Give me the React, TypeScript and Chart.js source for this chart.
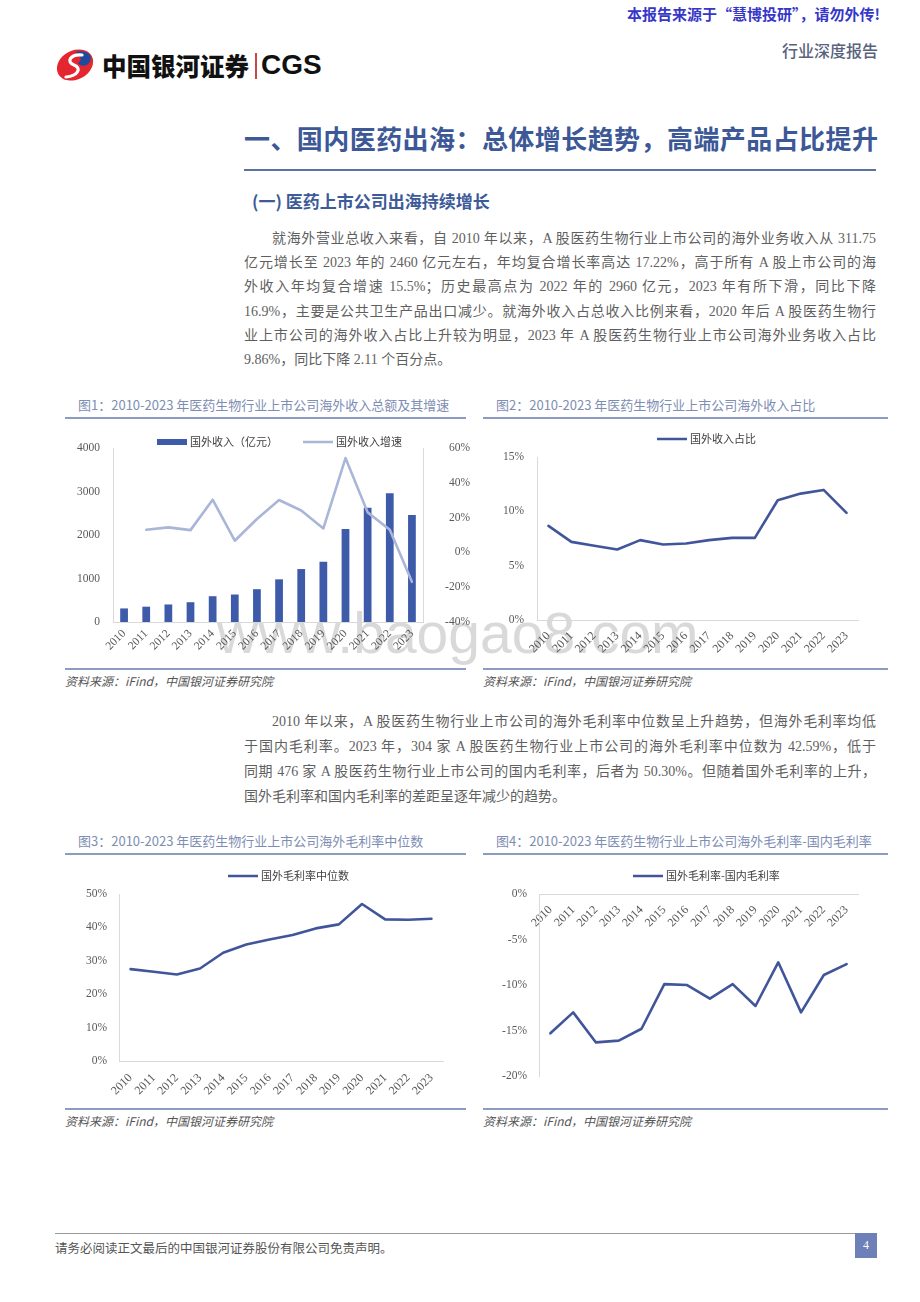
import React, { useEffect, useRef } from 'react';
import { Chart, registerables } from 'chart.js';

Chart.register(...registerables);

// ---------- data ----------
const years = ['2010', '2011', '2012', '2013', '2014', '2015', '2016', '2017', '2018', '2019', '2020', '2021', '2022', '2023'];
// 图1 国外收入（亿元）
const overseasRevenue = [312, 352, 403, 455, 593, 632, 754, 981, 1217, 1385, 2136, 2627, 2960, 2460];
// 图1 国外收入增速 (%)
const revenueGrowth: (number | null)[] = [null, 13.0, 14.4, 12.8, 30.3, 6.7, 19.2, 30.1, 24.1, 13.8, 54.2, 23.0, 13.0, -16.9];
// 图2 国外收入占比 (%)
const overseasShare = [8.66, 7.19, 6.83, 6.49, 7.35, 6.95, 7.04, 7.35, 7.56, 7.56, 11.02, 11.63, 11.97, 9.86];
// 图3 国外毛利率中位数 (%)
const overseasMargin = [27.5, 26.7, 25.9, 27.7, 32.4, 34.9, 36.4, 37.7, 39.7, 40.9, 47.0, 42.4, 42.3, 42.59];
// 图4 国外毛利率-国内毛利率 (%)
const marginGap = [-15.3, -13.0, -16.3, -16.1, -14.8, -9.9, -10.0, -11.5, -9.9, -12.3, -7.5, -13.0, -8.9, -7.7];

const leftTicks1 = [0, 4000, 1000];
const rightTicks1 = [-40, 60, 20];
const ticks2 = [0, 15, 5];
const ticks3 = [0, 50, 10];
const ticks4 = [-20, 0, 5];

// ---------- text ----------
const para1 = [
  '就海外营业总收入来看，自 2010 年以来，A 股医药生物行业上市公司的海外业务收入从 311.75',
  '亿元增长至 2023 年的 2460 亿元左右，年均复合增长率高达 17.22%，高于所有 A 股上市公司的海',
  '外收入年均复合增速 15.5%；历史最高点为 2022 年的 2960 亿元，2023 年有所下滑，同比下降',
  '16.9%，主要是公共卫生产品出口减少。就海外收入占总收入比例来看，2020 年后 A 股医药生物行',
  '业上市公司的海外收入占比上升较为明显，2023 年 A 股医药生物行业上市公司海外业务收入占比',
  '9.86%，同比下降 2.11 个百分点。',
];
const para2 = [
  '2010 年以来，A 股医药生物行业上市公司的海外毛利率中位数呈上升趋势，但海外毛利率均低',
  '于国内毛利率。2023 年，304 家 A 股医药生物行业上市公司的海外毛利率中位数为 42.59%，低于',
  '同期 476 家 A 股医药生物行业上市公司的国内毛利率，后者为 50.30%。但随着国外毛利率的上升，',
  '国外毛利率和国内毛利率的差距呈逐年减少的趋势。',
];

// ---------- styles ----------
const CJK = '"Noto Sans CJK SC", sans-serif';
const BODY_FONT = '"Liberation Serif", "Noto Sans CJK SC", serif';
const SERIF = '"Liberation Serif", "Times New Roman", serif';
const TICK_FONT = { family: SERIF, size: 11.5 };
const TICK_COLOR = '#595959';
const AXIS_LINE = '#d9d9d9';
const LINE_BLUE = '#41559a';
const BAR_BLUE = '#3d5ba9';
const GROWTH_BLUE = '#a9b6d7';

const pageLegend = {
  id: 'pageLegend',
  afterDraw(chart: any, _args: any, opts: any) {
    const ctx = chart.ctx;
    ctx.save();
    ctx.font = `11px ${CJK}`;
    ctx.textBaseline = 'middle';
    ctx.textAlign = 'left';
    let x = opts.x;
    const y = opts.y;
    chart.data.datasets.forEach((ds: any) => {
      const type = ds.type || chart.config.type;
      if (type === 'bar') {
        ctx.fillStyle = ds.backgroundColor;
        ctx.fillRect(x, y - 3, 30, 6);
      } else {
        ctx.strokeStyle = ds.borderColor;
        ctx.lineWidth = 2.5;
        ctx.beginPath();
        ctx.moveTo(x, y);
        ctx.lineTo(x + 30, y);
        ctx.stroke();
      }
      x += 33;
      ctx.fillStyle = '#404040';
      ctx.fillText(ds.label, x, y);
      x += ctx.measureText(ds.label).width + 25;
    });
    ctx.restore();
  },
};

const pct = (v: any) => `${v}%`;
const plain = (v: any) => `${v}`;

const yScale = (t: number[], width: number, pad: number, fmt: (v: any) => string, extra: any = {}) => ({
  min: t[0],
  max: t[1],
  ...extra,
  ticks: { stepSize: t[2], font: TICK_FONT, color: TICK_COLOR, padding: pad, callback: fmt, ...(extra.ticks || {}) },
  grid: { display: false, drawTicks: false },
  border: { display: true, color: AXIS_LINE, width: 1 },
  afterFit: (s: any) => {
    s.width = width;
  },
});

const xScale = (height: number | null, pad: number, size: number, extra: any = {}) => ({
  type: 'category',
  offset: true,
  ...extra,
  ticks: { font: { family: SERIF, size }, color: TICK_COLOR, minRotation: 45, maxRotation: 45, autoSkip: false, padding: pad },
  grid: { display: false, drawTicks: false },
  border: { display: true, color: AXIS_LINE, width: 1 },
  afterFit: (s: any) => {
    if (height !== null) s.height = height;
  },
});

const lineDs = (label: string, data: any[], color: string, extra: any = {}) => ({
  type: 'line',
  label,
  data,
  borderColor: color,
  backgroundColor: color,
  borderWidth: 2.6,
  pointRadius: 0,
  pointHoverRadius: 0,
  tension: 0,
  borderJoinStyle: 'round',
  borderCapStyle: 'round',
  fill: false,
  ...extra,
});

const baseOptions = (padding: any, legend: { x: number; y: number }) => ({
  animation: false,
  responsive: false,
  events: [],
  layout: { padding },
  plugins: { legend: { display: false }, tooltip: { enabled: false }, pageLegend: legend },
});

const chart1 = (): any => ({
  type: 'bar',
  data: {
    labels: years,
    datasets: [
      {
        type: 'bar',
        label: '国外收入（亿元）',
        data: overseasRevenue,
        backgroundColor: BAR_BLUE,
        barPercentage: 0.35,
        categoryPercentage: 1,
        yAxisID: 'y',
        order: 2,
      },
      lineDs('国外收入增速', revenueGrowth, GROWTH_BLUE, { yAxisID: 'y1', order: 1 }),
    ],
  },
  options: {
    ...baseOptions({ top: 23, left: 0, right: 0, bottom: 0 }, { x: 92, y: 17 }),
    scales: {
      x: xScale(43, 5, 11.5),
      y: yScale(leftTicks1, 48, 13, plain, { position: 'left' }),
      y1: yScale(rightTicks1, 47, 11, pct, { position: 'right', ticks: { crossAlign: 'far' } }),
    },
  },
  plugins: [pageLegend],
});

const chart2 = (): any => ({
  type: 'line',
  data: { labels: years, datasets: [lineDs('国外收入占比', overseasShare, LINE_BLUE)] },
  options: {
    ...baseOptions({ top: 32, left: 0, right: 30, bottom: 0 }, { x: 174, y: 14 }),
    scales: { x: xScale(45, 9, 12), y: yScale(ticks2, 54, 13, pct) },
  },
  plugins: [pageLegend],
});

const chart3 = (): any => ({
  type: 'line',
  data: { labels: years, datasets: [lineDs('国外毛利率中位数', overseasMargin, LINE_BLUE)] },
  options: {
    ...baseOptions({ top: 34, left: 0, right: 27, bottom: 0 }, { x: 163, y: 16 }),
    scales: { x: xScale(44, 10, 12), y: yScale(ticks3, 54, 12, pct) },
  },
  plugins: [pageLegend],
});

const chart4 = (): any => ({
  type: 'line',
  data: { labels: years, datasets: [lineDs('国外毛利率-国内毛利率', marginGap, LINE_BLUE)] },
  options: {
    ...baseOptions({ top: 34, left: 0, right: 30, bottom: 8 }, { x: 150, y: 16 }),
    scales: { x: xScale(null, 9, 12, { position: { y: 0 } }), y: yScale(ticks4, 56, 12, pct) },
  },
  plugins: [pageLegend],
});

function ChartCanvas({ left, top, width, height, build }: { left: number; top: number; width: number; height: number; build: () => any }) {
  const ref = useRef<HTMLCanvasElement>(null);
  useEffect(() => {
    const chart = new Chart(ref.current as HTMLCanvasElement, build());
    return () => chart.destroy();
  }, []);
  return (
    <canvas
      ref={ref}
      width={width}
      height={height}
      style={{ position: 'absolute', left, top, width, height, zIndex: 1 }}
    />
  );
}

const abs = (left: number, top: number, extra: React.CSSProperties = {}): React.CSSProperties => ({
  position: 'absolute',
  left,
  top,
  ...extra,
});

function ChartFrame({ left, width, titleTop, bottomLine, title }: { left: number; width: number; titleTop: number; bottomLine: number; title: string }) {
  return (
    <>
      <div style={abs(left + 13, titleTop - 10, { fontFamily: CJK, fontSize: 13, lineHeight: '20px', color: '#7e8db3', whiteSpace: 'nowrap' })}>{title}</div>
      <div style={abs(left, titleTop + 12, { width, height: 1.5, background: '#8d9bc0' })} />
      <div style={abs(left, bottomLine, { width, height: 1.5, background: '#8d9bc0' })} />
      <div style={abs(left, bottomLine + 5, { fontFamily: CJK, fontStyle: 'italic', fontSize: 12, lineHeight: '16px', color: '#555', whiteSpace: 'nowrap' })}>
        资料来源：iFind，中国银河证券研究院
      </div>
    </>
  );
}

function Para({ lines, top, step }: { lines: string[]; top: number; step: number }) {
  return (
    <>
      {lines.map((t, i) => (
        <div
          key={i}
          style={abs(i === 0 ? 272 : 244, top + i * step - 12, {
            width: i === 0 ? 604 : 632,
            height: 24,
            lineHeight: '24px',
            fontFamily: BODY_FONT,
            fontSize: 14,
            color: '#5f5f5f',
            whiteSpace: 'nowrap',
            textAlign: 'justify',
            textAlignLast: i === lines.length - 1 ? 'left' : 'justify',
          } as React.CSSProperties)}
        >
          {t}
        </div>
      ))}
    </>
  );
}

export default function App() {
  return (
    <div style={{ position: 'absolute', left: 0, top: 0, width: 920, height: 1302, background: '#fff', overflow: 'hidden' }}>
      {/* watermark (behind charts) */}
      <div style={abs(217, 605, { fontFamily: '"Liberation Sans", Arial, sans-serif', fontSize: 57, lineHeight: '57px', color: '#d9d9d9', whiteSpace: 'nowrap', zIndex: 0 })}>
        www.baogao8.com
      </div>

      {/* top notice */}
      <div style={{ position: 'absolute', right: 40, top: 4, fontFamily: CJK, fontWeight: 700, fontSize: 15, lineHeight: '20px', color: '#3636c8', whiteSpace: 'nowrap' }}>
        本报告来源于“慧博投研”，请勿外传!
      </div>

      {/* logo */}
      <svg style={abs(55, 47)} width="40" height="36" viewBox="0 0 40 36">
        <ellipse cx="20" cy="18" rx="19" ry="14.5" transform="rotate(-28 20 18)" fill="#e3262f" />
        <path d="M20 5 C 31 2, 40 8, 34 16 C 31 20, 25 19, 23 16 C 27 14, 27 9, 20 5 Z" fill="#1e4b9b" />
        <path d="M27 8 C 15 7, 11 15, 19 18 C 27 21, 23 29, 11 30" stroke="#fff" strokeWidth="3.2" fill="none" strokeLinecap="round" />
      </svg>
      <div style={abs(102, 51, { fontFamily: CJK, fontWeight: 900, fontSize: 24.5, lineHeight: '30px', color: '#111', whiteSpace: 'nowrap' })}>中国银河证券</div>
      <div style={abs(255, 53, { width: 1.5, height: 26, background: '#c8484e' })} />
      <div style={abs(261, 49, { fontFamily: '"Liberation Sans", Arial, sans-serif', fontWeight: 700, fontSize: 28, lineHeight: '32px', color: '#111' })}>CGS</div>

      <div style={{ position: 'absolute', right: 42, top: 40, fontFamily: CJK, fontSize: 16, lineHeight: '20px', color: '#59627d', fontWeight: 500 }}>行业深度报告</div>

      {/* heading */}
      <div style={abs(244, 122, { width: 634, fontFamily: CJK, fontWeight: 700, fontSize: 26, lineHeight: '32px', color: '#3c5897', whiteSpace: 'nowrap', textAlign: 'justify', textAlignLast: 'justify' } as React.CSSProperties)}>
        一、国内医药出海：总体增长趋势，高端产品占比提升
      </div>
      <div style={abs(244, 169, { width: 632, height: 2, background: '#5b72a8' })} />
      <div style={abs(252, 189, { fontFamily: CJK, fontWeight: 700, fontSize: 17, lineHeight: '24px', color: '#3d5a99', whiteSpace: 'nowrap' })}>
        (一) 医药上市公司出海持续增长
      </div>

      <Para lines={para1} top={239} step={24.2} />

      {/* chart frames */}
      <ChartFrame left={65} width={401} titleTop={405} bottomLine={668} title="图1：2010-2023 年医药生物行业上市公司海外收入总额及其增速" />
      <ChartFrame left={483} width={405} titleTop={405} bottomLine={668} title="图2：2010-2023 年医药生物行业上市公司海外收入占比" />
      <ChartCanvas left={65} top={425} width={405} height={240} build={chart1} />
      <ChartCanvas left={483} top={425} width={405} height={240} build={chart2} />

      <Para lines={para2} top={722} step={25} />

      <ChartFrame left={65} width={401} titleTop={841} bottomLine={1108} title="图3：2010-2023 年医药生物行业上市公司海外毛利率中位数" />
      <ChartFrame left={483} width={405} titleTop={841} bottomLine={1108} title="图4：2010-2023 年医药生物行业上市公司海外毛利率-国内毛利率" />
      <ChartCanvas left={65} top={860} width={405} height={245} build={chart3} />
      <ChartCanvas left={483} top={860} width={405} height={235} build={chart4} />

      {/* footer */}
      <div style={abs(55, 1233, { width: 800, height: 1, background: '#9a9a9a' })} />
      <div style={abs(55, 1239, { fontFamily: CJK, fontSize: 12.5, lineHeight: '18px', color: '#555', whiteSpace: 'nowrap' })}>
        请务必阅读正文最后的中国银河证券股份有限公司免责声明。
      </div>
      <div style={abs(855, 1233, { width: 22, height: 25, background: '#6d80b8', color: '#fff', fontFamily: BODY_FONT, fontSize: 12, lineHeight: '25px', textAlign: 'center' })}>4</div>
    </div>
  );
}
